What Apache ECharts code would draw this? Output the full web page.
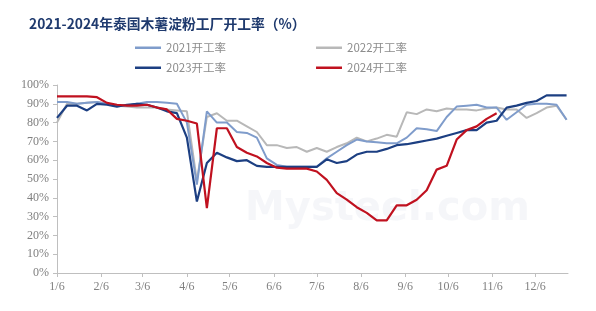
<!DOCTYPE html>
<html>
<head>
<meta charset="utf-8">
<script src="https://cdn.jsdelivr.net/npm/echarts@6/dist/echarts.min.js"></script>
<style>
html,body{margin:0;padding:0;background:#fff;}
#c{width:596px;height:311px;}
</style>
</head>
<body>
<div id="c"></div>
<script>
// Tick labels (month/day) on the date axis
const tickLabels = ['1/6','2/6','3/6','4/6','5/6','6/6','7/6','8/6','9/6','10/6','11/6','12/6'];
// Weekly observations, first week on 1/6
const weekStepDays = 7;
const s2021 = [91,91,90,90.5,91,90,89,89,90,91, 91,90.5,90,80,47,86,80,80,75,74.5, 72,61,57.5,56.5,56.5,56.5,56.5,61,64.5,68, 71,70,69.5,69,69,72,77,76.5,75.5,83, 88.5,89,89.5,88,88,81.5,85.5,89.5,90,90, 89.5,81.5];
const s2022 = [80,90,90,90.5,91,90,89,88.5,88,88, 88,87,86.5,86,49,83,85,81,81,78, 75,68,68,66.5,67,64.5,66.5,64.5,67,69, 72,70,71.5,73.5,72.5,85.5,84.5,87,86,87.5, 87,87,86.5,87.5,88,87,87,82.5,85,88, 89,81.5];
const s2023 = [82.5,89,89,86.5,90,89.5,88.5,89.5,90,89.5, 88,86,85,72,38,58.5,64,61.5,59.5,60, 57,56.5,56.5,56.5,56.5,56.5,56.5,60.5,58.5,59.5, 63,64.5,64.5,66,68,68.5,69.5,70.5,71.5,73, 74.5,76,76,80,81,88,89,90.5,91.5,94.5, 94.5,94.5];
const s2024 = [94,94,94,94,93.5,90.5,89.5,89,89,89.5, 88,87,82,81,79.5,34.5,77,77,67,64, 62,58.5,56,55.5,55.5,55.5,54,49.5,42.5,39, 35,32,28,28,36,36,39,44,55,57, 71,76,78,82,85];
const names = ['2021开工率','2022开工率','2023开工率','2024开工率'];
const colors = ['#7F9CCB','#B8B8B8','#1C3F82','#C0111F'];

function dayOffset(label){
  const [m,d] = label.split('/').map(Number);
  return Math.round((Date.UTC(2024,m-1,d) - Date.UTC(2024,0,6)) / 86400000);
}
const tickDays = tickLabels.map(dayOffset);
const labelByDay = {};
tickLabels.forEach((l,i)=>{labelByDay[tickDays[i]] = l;});
function toPoints(arr){ return arr.map((v,i)=>[i*weekStepDays, v]); }

const chart = echarts.init(document.getElementById('c'), null, {renderer:'canvas'});
const allSeries = [s2021,s2022,s2023,s2024].map((arr,i)=>({
  name: names[i],
  type: 'line',
  data: toPoints(arr),
  showSymbol: false,
  symbol: 'none',
  smooth: false,
  z: i===3 ? 5 : (i===2 ? 4 : 3 - i),
  lineStyle: {color: colors[i], width: i>=2 ? 2.2 : 2},
  itemStyle: {color: colors[i]}
}));

const legendCommon = {
  left: 135, orient: 'horizontal', itemGap: 90, padding: 0,
  icon: 'rect', itemWidth: 26, itemHeight: 2.5,
  textStyle: {color: '#8C8C8C', fontSize: 11.5, fontFamily: 'Noto Sans CJK SC, sans-serif'}
};

chart.setOption({
  animation: false,
  backgroundColor: '#fff',
  title: {
    text: '2021-2024年泰国木薯淀粉工厂开工率（%）',
    left: 24, top: 12,
    textStyle: {color: '#1F3A6E', fontSize: 13.8, fontWeight: 'bold', fontFamily: 'Noto Sans CJK SC, sans-serif'}
  },
  graphic: [{
    type: 'text', left: 245, top: 190, silent: true, z: 0,
    style: {text: 'Mysteel.com', fill: 'rgba(190,200,218,0.16)', font: 'bold 40px "DejaVu Sans", sans-serif'}
  }],
  legend: [
    Object.assign({top: 42, data: [names[0], names[1]]}, legendCommon),
    Object.assign({top: 62, data: [names[2], names[3]]}, legendCommon)
  ],
  grid: {left: 57, right: 28, top: 85, bottom: 38, containLabel: false},
  xAxis: {
    type: 'value', min: 0, max: 358,
    axisLine: {show: true, lineStyle: {color: '#BFBFBF', width: 1}},
    axisTick: {show: true, customValues: tickDays, length: 4, lineStyle: {color: '#BFBFBF'}},
    axisLabel: {
      customValues: tickDays, color: '#808080', fontSize: 12,
      fontFamily: 'Liberation Serif, serif', margin: 8,
      formatter: v => labelByDay[v] || ''
    },
    splitLine: {show: false}
  },
  yAxis: {
    type: 'value', min: 0, max: 100, interval: 10,
    axisLine: {show: true, lineStyle: {color: '#BFBFBF', width: 1}},
    axisTick: {show: true, length: 4, lineStyle: {color: '#BFBFBF'}},
    axisLabel: {color: '#808080', fontSize: 12, fontFamily: 'Liberation Serif, serif', formatter: '{value}%', margin: 8},
    splitLine: {show: false}
  },
  series: allSeries
});
</script>
</body>
</html>
